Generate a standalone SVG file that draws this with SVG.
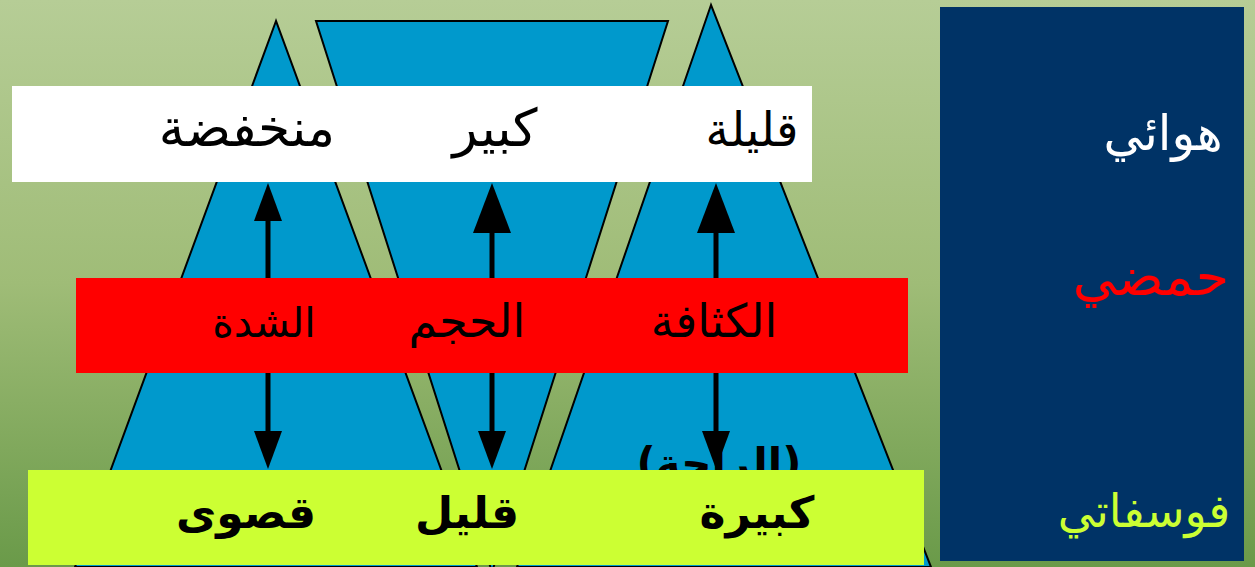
<svg xmlns="http://www.w3.org/2000/svg" width="1255" height="567" viewBox="0 0 1255 567">
<defs>
<linearGradient id="bg" x1="0" y1="0" x2="0" y2="1">
<stop offset="0" stop-color="#b6cd96"/>
<stop offset="0.5" stop-color="#9fbc77"/>
<stop offset="1" stop-color="#6a9a49"/>
</linearGradient>
</defs>
<style>
.shape{fill:#0099cc;stroke:#000;stroke-width:2;stroke-linejoin:miter}
.ar{font-family:"DejaVu Sans","Noto Sans",sans-serif;text-anchor:middle}
.big{font-size:46px}
.b{font-weight:bold}
.head{fill:#000}
.shaft{stroke:#000;stroke-width:5}
</style>
<rect x="0" y="0" width="1255" height="567" fill="url(#bg)"/>
<g id="triangle-left"><polygon class="shape" points="276,21 75,567 477,567"/></g>
<g id="triangle-middle"><polygon class="shape" points="316,21 668,21 492,572"/></g>
<g id="triangle-right"><polygon class="shape" points="711,5 517,567 931,567"/></g>
<text class="ar b" x="719" y="478" font-size="42">(الراحة)</text>
<g id="connectors">
<line class="shaft" x1="268" y1="215" x2="268" y2="435"/>
<polygon class="head" points="268,183 254,221 282,221"/>
<polygon class="head" points="268,469 254,431 282,431"/>
<line class="shaft" x1="492" y1="225" x2="492" y2="435"/>
<polygon class="head" points="492,183 473,233 511,233"/>
<polygon class="head" points="492,469 478,431 506,431"/>
<line class="shaft" x1="716" y1="225" x2="716" y2="435"/>
<polygon class="head" points="716,183 697,233 735,233"/>
<polygon class="head" points="716,469 702,431 730,431"/>
</g>
<g id="box-top">
<rect x="12" y="86" width="800" height="96" fill="#fff"/>
<text class="ar" x="247" y="146" font-size="52">منخفضة</text>
<text class="ar" x="495" y="146" font-size="52">كبير</text>
<text class="ar" x="752" y="146" font-size="47">قليلة</text>
</g>
<g id="box-middle">
<rect x="76" y="278" width="832" height="95" fill="#ff0000"/>
<text class="ar" x="264" y="337" font-size="41">الشدة</text>
<text class="ar big" x="467" y="337">الحجم</text>
<text class="ar big" x="714" y="337">الكثافة</text>
</g>
<g id="box-bottom">
<rect x="28" y="470" width="896" height="95" fill="#ccff33"/>
<text class="ar b" x="246" y="528" font-size="44">قصوى</text>
<text class="ar b" x="467" y="528" font-size="44">قليل</text>
<text class="ar b" x="757" y="528" font-size="44">كبيرة</text>
</g>
<g id="panel">
<rect x="940" y="7" width="304" height="554" fill="#003366"/>
<text class="ar" x="1163" y="150" fill="#fff" font-size="49">هوائي</text>
<text class="ar" x="1151" y="295" fill="#ff0000" font-size="54">حمضي</text>
<text class="ar big" x="1144" y="527" fill="#ccff33">فوسفاتي</text>
</g>
</svg>
